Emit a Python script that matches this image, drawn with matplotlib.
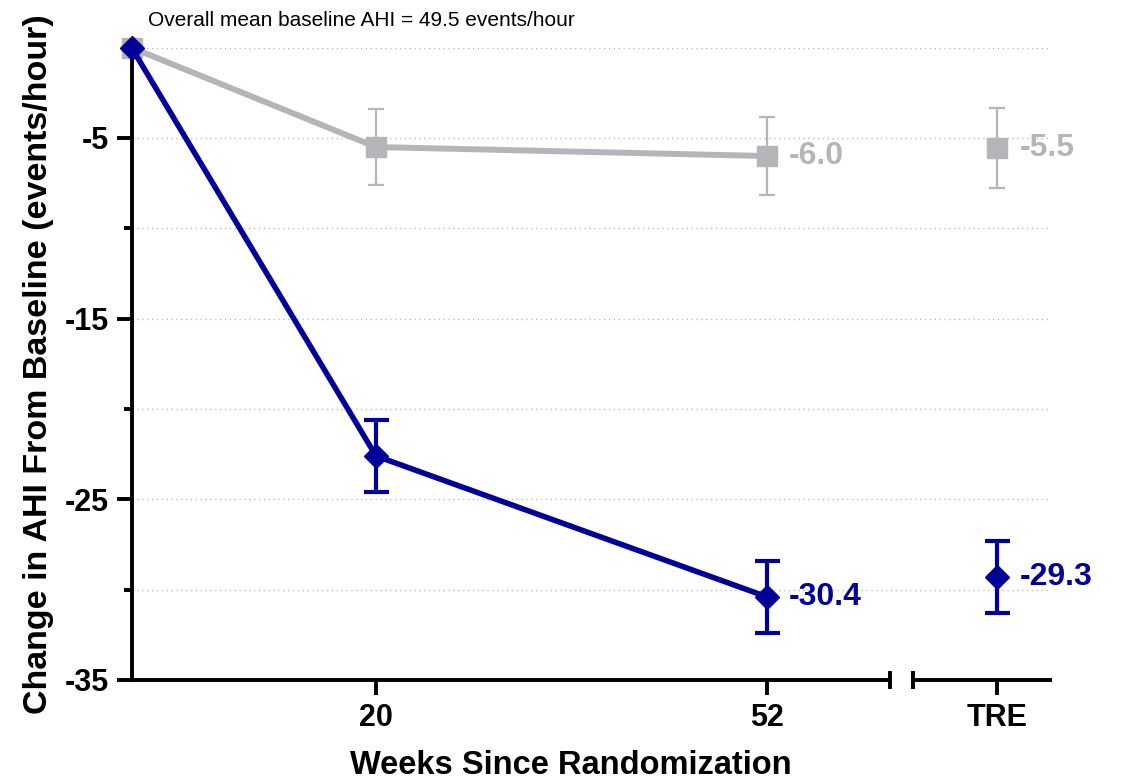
import numpy as np
import matplotlib.pyplot as plt
from matplotlib.ticker import FixedLocator

# data
weeks = [0, 20, 52]
week_ticks = [20, 52]

control_mean = [0.0, -5.5, -6.0]
control_err = [0.0, 2.1, 2.15]
control_tre = -5.55
control_tre_err = 2.2

tre_mean = [0.0, -22.6, -30.4]
tre_err = [0.0, 2.0, 2.0]
tre_tre = -29.3
tre_tre_err = 2.0

grey = '#B5B5B9'
blue = '#000099'

plt.rcParams['font.family'] = ['Liberation Sans', 'DejaVu Sans']
plt.rcParams['axes.unicode_minus'] = False

fig = plt.figure(figsize=(11.25, 7.84), dpi=100)

# background axis only holds the dotted grid, it runs across the axis break
bg = fig.add_axes([0.117, 0.1327, 0.8146, 0.8065])
bg.set_xlim(0, 1)
bg.set_ylim(-35, 0)
for y in np.arange(-30, 1, 5):
    bg.axhline(y, color='#BDBDBD', lw=1.0, ls=(0, (1, 2.5)), zorder=0)
bg.axis('off')

ax1 = fig.add_axes([0.117, 0.1327, 0.674, 0.8065])
ax2 = fig.add_axes([0.8116, 0.1327, 0.1218, 0.8065], sharey=ax1)
for a in (ax1, ax2):
    a.patch.set_alpha(0)

# control arm (grey squares)
ax1.plot(weeks, control_mean, color=grey, lw=4.3, marker='s', ms=14,
         clip_on=False, zorder=3)
ax1.errorbar(weeks[1:], control_mean[1:], yerr=control_err[1:], fmt='none',
             ecolor=grey, elinewidth=1.6, capsize=6, capthick=1.6, zorder=2)
ax2.errorbar([0], [control_tre], yerr=[control_tre_err], fmt='s', ms=14,
             color=grey, ecolor=grey, elinewidth=1.6, capsize=6, capthick=1.6)

# TRE arm (blue diamonds)
ax1.plot(weeks, tre_mean, color=blue, lw=4, marker='D', ms=12.5,
         clip_on=False, zorder=5)
ax1.errorbar(weeks[1:], tre_mean[1:], yerr=tre_err[1:], fmt='none',
             ecolor=blue, elinewidth=3, capsize=9, capthick=3, zorder=4)
ax2.errorbar([0], [tre_tre], yerr=[tre_tre_err], fmt='D', ms=12.5,
             color=blue, ecolor=blue, elinewidth=3, capsize=9, capthick=3)

# value labels
lab = dict(textcoords='offset points', xytext=(16, 0), va='center',
           fontsize=23, fontweight='bold')
ax1.annotate(f'{control_mean[2]:.1f}', (weeks[2], control_mean[2]), color=grey, **lab)
ax1.annotate(f'{tre_mean[2]:.1f}', (weeks[2], tre_mean[2]), color=blue, **lab)
ax2.annotate(f'{control_tre:.1f}', (0, control_tre), color=grey, **lab)
ax2.annotate(f'{tre_tre:.1f}', (0, tre_tre), color=blue, **lab)

# axes styling
ax1.set_xlim(0, 62.06)
ax1.set_ylim(-35, 0)
ax1.set_xticks(week_ticks)
ax1.yaxis.set_major_locator(FixedLocator([-35, -25, -15, -5]))
ax1.yaxis.set_minor_locator(FixedLocator([-30, -20, -10, 0]))
ax1.spines[['top', 'right']].set_visible(False)
ax1.spines[['left', 'bottom']].set_linewidth(2.8)

ax2.set_xlim(-0.613, 0.387)
ax2.set_xticks([0])
ax2.set_xticklabels(['TRE'])
ax2.spines[['top', 'right', 'left']].set_visible(False)
ax2.spines['bottom'].set_linewidth(2.8)
ax2.tick_params(axis='y', which='both', left=False, labelleft=False)

for a in (ax1, ax2):
    a.tick_params(axis='both', which='major', length=10.5, width=2.8, pad=6,
                  labelsize=22)
    a.tick_params(axis='y', which='minor', length=6, width=2.8)
    for t in a.get_xticklabels() + a.get_yticklabels():
        t.set_fontweight('bold')

# break marks at both ends of the gap
brk = dict(marker='|', ms=13, mew=2.8, color='black', clip_on=False)
ax1.plot([1], [0], transform=ax1.transAxes, **brk)
ax2.plot([0], [0], transform=ax2.transAxes, **brk)

ax1.set_ylabel('Change in AHI From Baseline (events/hour)', fontsize=24.5,
               fontweight='bold', labelpad=7.5)
fig.text(571 / 1125, 0.024, 'Weeks Since Randomization', ha='center',
         va='center', fontsize=23.5, fontweight='bold')
fig.text(148 / 1125, 1 - 20 / 784, 'Overall mean baseline AHI = 49.5 events/hour',
         ha='left', va='center', fontsize=15)

fig.savefig('out.png', dpi=100)
